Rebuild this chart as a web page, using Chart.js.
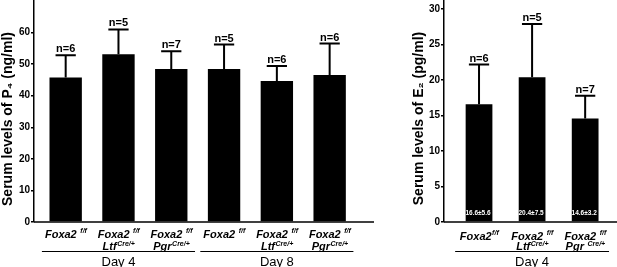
<!DOCTYPE html>
<html>
<head>
<meta charset="utf-8">
<script src="https://cdn.jsdelivr.net/npm/chart.js@4.4.0/dist/chart.umd.min.js"></script>
<style>
  html, body { margin: 0; padding: 0; background: #fff; }
  #wrap { position: relative; width: 617px; height: 267px; overflow: hidden; }
  canvas { position: absolute; top: 0; }
  #p4Chart { left: 0; }
  #e2Chart { left: 380px; }
</style>
</head>
<body>
<div id="wrap">
  <canvas id="p4Chart" width="380" height="267"></canvas>
  <canvas id="e2Chart" width="237" height="267"></canvas>
</div>
<script>
// Serum P4 (ng/ml), day 4 and day 8
const p4Means = [45.8, 53.1, 48.5, 48.5, 44.7, 46.6]
const p4Errors = [7.0, 7.9, 5.6, 7.7, 4.7, 9.9]
const p4Counts = ['n=6', 'n=5', 'n=7', 'n=5', 'n=6', 'n=6']
const p4Ticks = [0, 10, 20, 30, 40, 50, 60]
const p4Line1 = [['Foxa2 ', 'f/f'], ['Foxa2 ', 'f/f'], ['Foxa2 ', 'f/f'], ['Foxa2 ', 'f/f'], ['Foxa2 ', 'f/f'], ['Foxa2 ', 'f/f']]
const p4Line2 = [null, ['Ltf', 'Cre/+'], ['Pgr', 'Cre/+'], null, ['Ltf', 'Cre/+'], ['Pgr', 'Cre/+']]
const p4GroupLabels = ['Day 4', 'Day 8']
const p4GroupSpans = [[0, 2], [3, 5]]

// Serum E2 (pg/ml), day 4
const e2Means = [16.6, 20.4, 14.6]
const e2Errors = [5.6, 7.5, 3.2]
const e2Counts = ['n=6', 'n=5', 'n=7']
const e2Ticks = [0, 5, 10, 15, 20, 25, 30]
const e2Line1 = [['Foxa2', 'f/f'], ['Foxa2 ', 'f/f'], ['Foxa2 ', 'f/f']]
const e2Line2 = [null, ['Ltf', 'Cre/+'], ['Pgr ', 'Cre/+']]
const e2GroupLabels = ['Day 4']
const e2GroupSpans = [[0, 2]]

const FONT = "'Liberation Sans', Arial, sans-serif"

/**
 * Draws a label with a superscript part, centred on cx
 */
function drawRich(ctx, parts, cx, baseline) {
  if (!parts) return
  const mainFont = 'italic bold 11px ' + FONT
  const supFont = 'italic bold 7px ' + FONT
  ctx.font = mainFont
  const w1 = ctx.measureText(parts[0]).width
  ctx.font = supFont
  const w2 = ctx.measureText(parts[1]).width
  const x = cx - (w1 + w2) / 2
  ctx.textAlign = 'left'
  ctx.textBaseline = 'alphabetic'
  ctx.font = mainFont
  ctx.fillText(parts[0], x, baseline)
  ctx.font = supFont
  ctx.fillText(parts[1], x + w1 + 0.5, baseline - 4.5)
}

// error bars, n= labels, genotype labels, group brackets, axis title
const annotate = {
  id: 'annotate',
  afterDatasetsDraw(chart, args, opts) {
    const ctx = chart.ctx
    const xs = chart.scales.x
    const ys = chart.scales.y
    const area = chart.chartArea
    const meta = chart.getDatasetMeta(0)
    const zero = ys.getPixelForValue(0)
    ctx.save()
    ctx.fillStyle = '#000'
    ctx.strokeStyle = '#000'

    // x axis
    ctx.lineWidth = 1.5
    ctx.beginPath()
    ctx.moveTo(area.left, zero)
    ctx.lineTo(area.right, zero)
    ctx.stroke()

    meta.data.forEach((bar, i) => {
      const top = ys.getPixelForValue(opts.means[i] + opts.errors[i])
      ctx.font = 'bold 11px ' + FONT
      const capW = ctx.measureText(opts.counts[i]).width + 1
      ctx.lineWidth = 2
      ctx.beginPath()
      ctx.moveTo(bar.x, bar.y)
      ctx.lineTo(bar.x, top)
      ctx.moveTo(bar.x - capW / 2, top)
      ctx.lineTo(bar.x + capW / 2, top)
      ctx.stroke()
      ctx.textAlign = 'center'
      ctx.textBaseline = 'alphabetic'
      ctx.fillText(opts.counts[i], bar.x, top - 3)

      if (opts.inBar) {
        ctx.fillStyle = '#fff'
        ctx.font = 'bold 6.5px ' + FONT
        ctx.textAlign = 'center'
        ctx.textBaseline = 'middle'
        ctx.fillText(opts.means[i].toFixed(1) + '±' + opts.errors[i].toFixed(1), bar.x - 1, zero - 9)
        ctx.fillStyle = '#000'
      }

      drawRich(ctx, opts.line1[i], bar.x, opts.line1Y)
      drawRich(ctx, opts.line2[i], bar.x, 250)
    })

    // group brackets
    opts.groupSpans.forEach((span, g) => {
      const x0 = xs.getPixelForValue(span[0] - 0.45)
      const x1 = xs.getPixelForValue(span[1] + 0.45)
      ctx.lineWidth = 1
      ctx.beginPath()
      ctx.moveTo(x0, 251.5)
      ctx.lineTo(x1, 251.5)
      ctx.stroke()
      ctx.font = '13px ' + FONT
      ctx.textAlign = 'center'
      ctx.textBaseline = 'alphabetic'
      ctx.fillText(opts.groupLabels[g], (x0 + x1) / 2, 265.5)
    })

    // y axis title
    ctx.translate(opts.titleX, opts.titleY)
    ctx.rotate(-Math.PI / 2)
    ctx.font = 'bold 14px ' + FONT
    ctx.textAlign = 'center'
    ctx.textBaseline = 'middle'
    ctx.fillText(opts.title, 0, 0)
    ctx.restore()
  },
}

function makeChart(id, cfg) {
  const canvas = document.getElementById(id)
  const ctx = canvas.getContext('2d')
  return new Chart(ctx, {
    type: 'bar',
    data: {
      datasets: [
        {
          data: cfg.means.map((v, i) => ({ x: i, y: v })),
          backgroundColor: '#000',
          borderWidth: 0,
          barPercentage: cfg.barPct,
          categoryPercentage: 1,
        },
      ],
    },
    options: {
      responsive: false,
      animation: false,
      layout: { padding: cfg.padding },
      plugins: {
        legend: { display: false },
        tooltip: { enabled: false },
        annotate: {
          means: cfg.means,
          errors: cfg.errors,
          counts: cfg.counts,
          line1: cfg.line1,
          line2: cfg.line2,
          line1Y: cfg.line1Y,
          groupLabels: cfg.groupLabels,
          groupSpans: cfg.groupSpans,
          inBar: cfg.inBar,
          title: cfg.title,
          titleX: cfg.titleX,
          titleY: cfg.titleY,
        },
      },
      scales: {
        x: {
          type: 'linear',
          display: false,
          offset: false,
          min: cfg.xMin,
          max: cfg.xMax,
        },
        y: {
          min: 0,
          max: cfg.yMax,
          afterBuildTicks: (s) => {
            s.ticks = cfg.ticks.map((v) => ({ value: v }))
          },
          afterFit: (s) => {
            s.width = cfg.axisWidth
            s.paddingTop = 0
            s.paddingBottom = 0
          },
          border: { display: true, color: '#000', width: 1.5 },
          grid: { drawOnChartArea: false, color: '#000', lineWidth: 1.5, tickLength: 3 },
          ticks: { color: '#000', padding: 1, font: { family: FONT, size: 10, weight: 'bold' } },
        },
      },
    },
    plugins: [annotate],
  })
}

makeChart('p4Chart', {
  means: p4Means,
  errors: p4Errors,
  counts: p4Counts,
  ticks: p4Ticks,
  line1: p4Line1,
  line2: p4Line2,
  line1Y: 237.5,
  groupLabels: p4GroupLabels,
  groupSpans: p4GroupSpans,
  title: 'Serum levels of P₄ (ng/ml)',
  titleX: 8,
  titleY: 119,
  yMax: 70,
  xMin: -0.6,
  xMax: 5.84,
  barPct: 0.73,
  axisWidth: 34,
  padding: { left: 0, right: 6, top: 1, bottom: 45 },
  inBar: false,
})

makeChart('e2Chart', {
  means: e2Means,
  errors: e2Errors,
  counts: e2Counts,
  ticks: e2Ticks,
  line1: e2Line1,
  line2: e2Line2,
  line1Y: 239.5,
  groupLabels: e2GroupLabels,
  groupSpans: e2GroupSpans,
  title: 'Serum levels of E₂ (pg/ml)',
  titleX: 39,
  titleY: 118.5,
  yMax: 31.3,
  xMin: -0.66,
  xMax: 2.6,
  barPct: 0.84,
  axisWidth: 33,
  padding: { left: 31, right: 0, top: 0, bottom: 45 },
  inBar: true,
})
</script>
</body>
</html>
